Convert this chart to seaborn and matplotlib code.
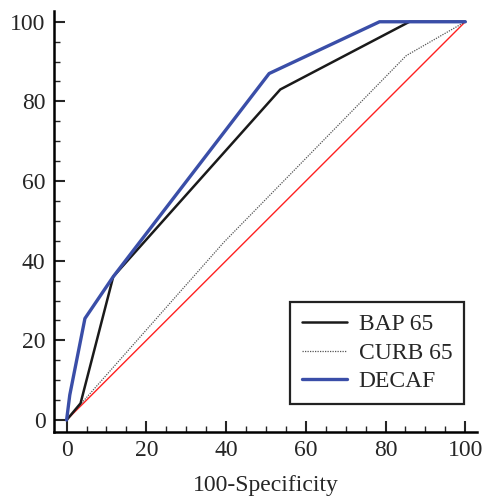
import pandas as pd
import matplotlib
matplotlib.use("Agg")
import matplotlib.pyplot as plt
import seaborn as sns
from matplotlib.ticker import MultipleLocator

# ROC curves (x = 100-Specificity, y = Sensitivity)
bap_x = [0, 3.5, 11.7, 53.6, 86, 100]
bap_y = [0, 4.2, 36, 83, 100, 100]

curb_x = [0, 39.5, 85.2, 100]
curb_y = [0, 44.7, 91.5, 100]

decaf_x = [0, 0.8, 4.6, 11.7, 50.8, 78.5, 100]
decaf_y = [0, 6.3, 25.5, 36, 87, 100, 100]

ref_x = [0, 100]
ref_y = [0, 100]

sns.set_style("white")
plt.rcParams['font.family'] = ['Liberation Serif', 'DejaVu Serif']

fig = plt.figure(figsize=(4.85, 5.0), dpi=100)
ax = fig.add_axes([0.111, 0.136, 0.873, 0.842])

sns.lineplot(x=ref_x, y=ref_y, ax=ax, color="#ff2020", linewidth=1.0, sort=False)
sns.lineplot(x=curb_x, y=curb_y, ax=ax, color="#555555", linewidth=0.9,
             linestyle=(0, (1, 1)), sort=False, label="CURB 65")
sns.lineplot(x=bap_x, y=bap_y, ax=ax, color="#1a1a1a", linewidth=1.8, sort=False, label="BAP 65")
sns.lineplot(x=decaf_x, y=decaf_y, ax=ax, color="#3a4ea8", linewidth=2.4, sort=False, label="DECAF")

ax.set_xlim(-3.2, 103)
ax.set_ylim(-3, 102.7)
ax.xaxis.set_major_locator(MultipleLocator(20))
ax.xaxis.set_minor_locator(MultipleLocator(5))
ax.yaxis.set_major_locator(MultipleLocator(20))
ax.yaxis.set_minor_locator(MultipleLocator(5))
ax.tick_params(which="major", direction="in", length=8, width=1.5, labelsize=17, pad=6)
ax.tick_params(which="minor", direction="in", length=4.5, width=1.0)
ax.tick_params(axis="both", which="both", bottom=True, left=True, top=False, right=False)
ax.set_xlabel("100-Specificity", fontsize=17, labelpad=10)
ax.set_ylabel("")

for side in ["top", "right"]:
    ax.spines[side].set_visible(False)
for side in ["left", "bottom"]:
    ax.spines[side].set_linewidth(1.8)
    ax.spines[side].set_color("black")

# legend order as in the picture
handles, labels = ax.get_legend_handles_labels()
order = [labels.index(n) for n in ["BAP 65", "CURB 65", "DECAF"]]
leg = ax.legend([handles[i] for i in order], [labels[i] for i in order],
                loc="lower right", bbox_to_anchor=(0.969, 0.066), borderaxespad=0,
                fontsize=17, frameon=True, fancybox=False, framealpha=1,
                borderpad=0.5, handlelength=1.9, labelspacing=0.3, handletextpad=0.5)
leg.get_frame().set_edgecolor("#222222")
leg.get_frame().set_linewidth(1.6)

fig.savefig("out.png", dpi=100)
